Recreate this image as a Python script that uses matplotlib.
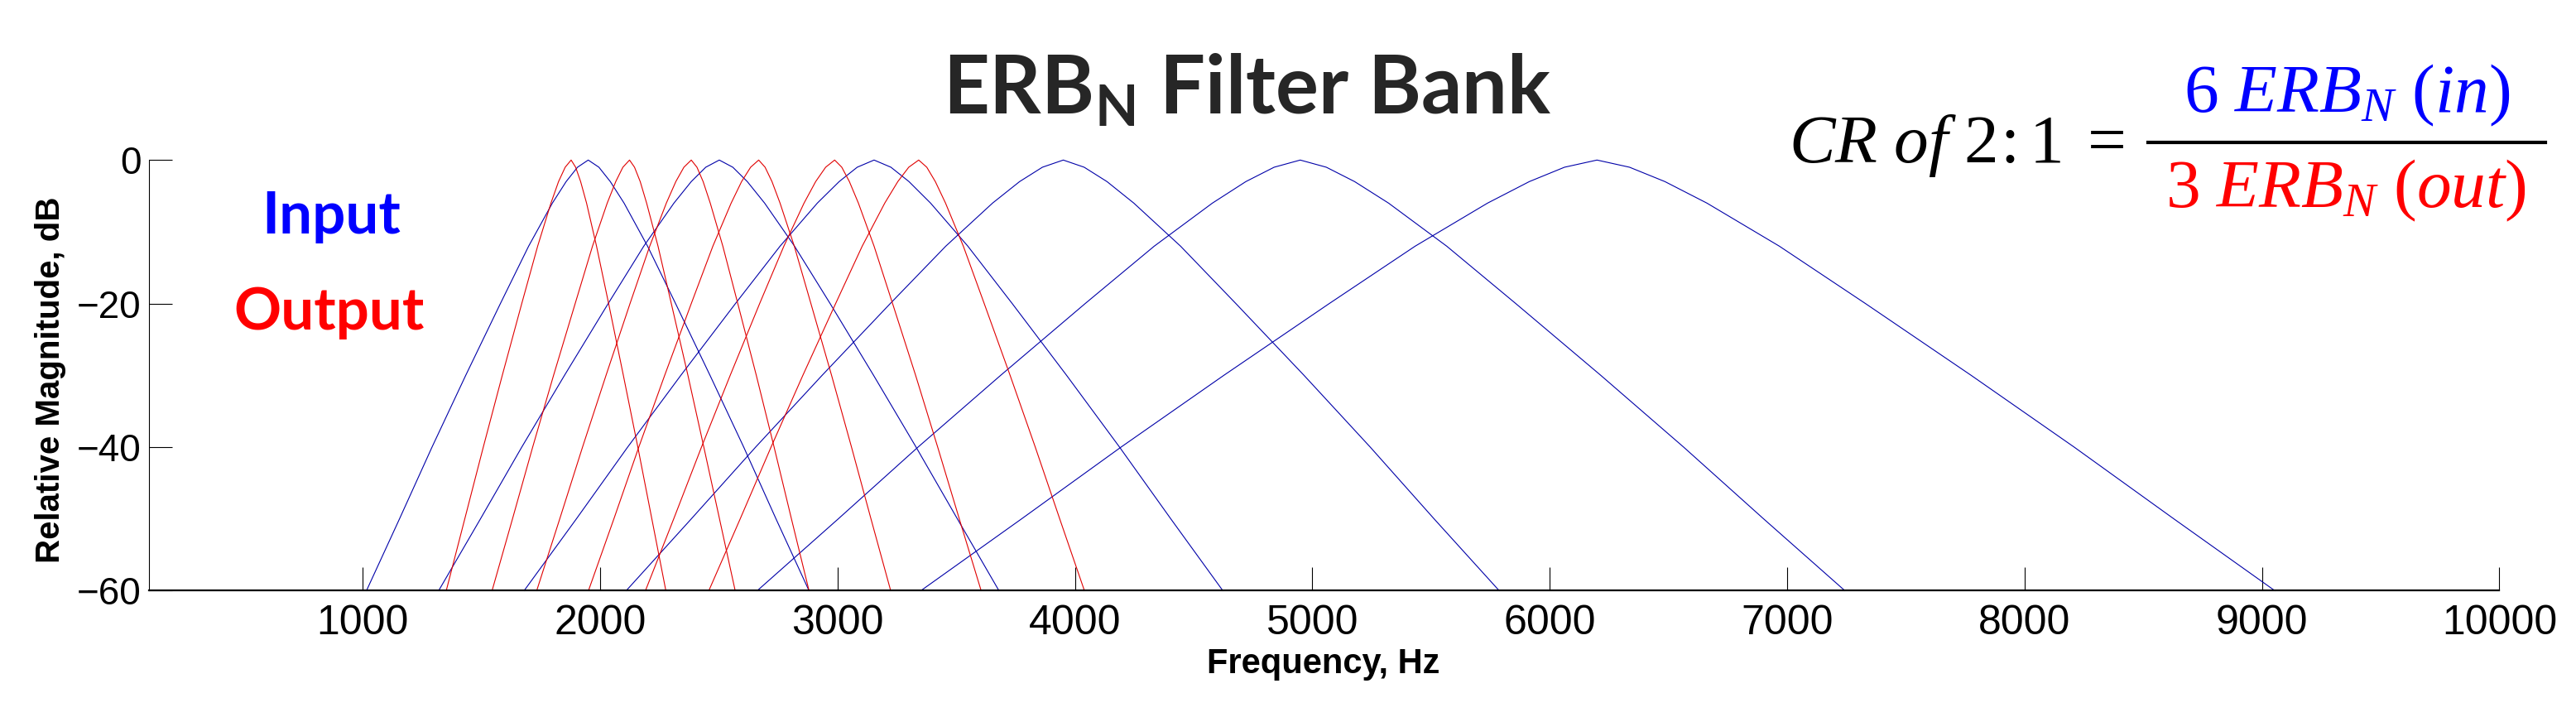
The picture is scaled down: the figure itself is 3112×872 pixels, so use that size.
import matplotlib
matplotlib.use("Agg")
import matplotlib.pyplot as plt
from matplotlib.lines import Line2D

levels = [-60, -50, -40, -30, -20, -12, -6, -3, -1, 0, -1, -3, -6, -12, -20, -30, -40, -50, -60]

# input (blue) filters, frequency in Hz at each level
input_freqs = [
    [1016, 1155, 1292, 1434, 1580, 1699, 1799, 1857, 1905, 1950, 1995, 2043, 2101, 2200, 2318, 2463, 2605, 2741, 2880],
    [1320, 1496, 1670, 1850, 2034, 2184, 2311, 2384, 2445, 2502, 2559, 2620, 2693, 2819, 2969, 3152, 3331, 3505, 3680],
    [1680, 1900, 2116, 2340, 2570, 2758, 2915, 3007, 3083, 3154, 3225, 3301, 3392, 3549, 3736, 3965, 4188, 4404, 4623],
    [2110, 2384, 2655, 2935, 3222, 3456, 3653, 3767, 3863, 3951, 4039, 4135, 4248, 4445, 4678, 4965, 5244, 5513, 5787],
    [2662, 3003, 3339, 3687, 4043, 4334, 4579, 4720, 4839, 4949, 5059, 5178, 5321, 5566, 5857, 6215, 6564, 6901, 7243],
    [3351, 3775, 4194, 4627, 5071, 5433, 5738, 5914, 6062, 6199, 6336, 6485, 6662, 6967, 7330, 7775, 8209, 8629, 9054],
]

# output (red) filters
output_freqs = [
    [1352, 1430, 1508, 1588, 1670, 1737, 1793, 1825, 1853, 1878, 1897, 1918, 1943, 1985, 2036, 2098, 2159, 2218, 2277],
    [1545, 1631, 1716, 1804, 1895, 1968, 2030, 2066, 2096, 2124, 2145, 2169, 2196, 2244, 2300, 2370, 2437, 2503, 2569],
    [1733, 1830, 1926, 2025, 2126, 2209, 2279, 2319, 2353, 2384, 2408, 2434, 2464, 2517, 2580, 2658, 2733, 2806, 2880],
    [1951, 2058, 2163, 2272, 2384, 2475, 2552, 2596, 2634, 2668, 2695, 2724, 2758, 2818, 2888, 2975, 3059, 3141, 3224],
    [2191, 2310, 2427, 2548, 2672, 2774, 2859, 2908, 2950, 2988, 3018, 3050, 3088, 3154, 3232, 3329, 3422, 3513, 3605],
    [2458, 2590, 2720, 2854, 2992, 3104, 3199, 3254, 3300, 3342, 3376, 3412, 3455, 3530, 3618, 3727, 3833, 3936, 4040],
]

x_ticks = [1000, 2000, 3000, 4000, 5000, 6000, 7000, 8000, 9000, 10000]
y_ticks = [-60, -40, -20, 0]

plt.rcParams['mathtext.fontset'] = 'custom'
plt.rcParams['mathtext.bf'] = 'Lato:bold'
plt.rcParams['mathtext.it'] = 'Liberation Serif:italic'
plt.rcParams['mathtext.rm'] = 'Liberation Serif'

W, H = 3112, 872
fig = plt.figure(figsize=(W / 100, H / 100), dpi=100)
ax = fig.add_axes([180 / W, 1 - 713.4 / H, (3019.5 - 180) / W, (713.4 - 193.3) / H])

def fx(px):
    return px / W

def fy(py):
    return 1 - py / H

for f in input_freqs:
    ax.plot(f, levels, color='#0000a8', lw=0.8, clip_on=False)
for f in output_freqs:
    ax.plot(f, levels, color='#e00000', lw=0.8, clip_on=False)

ax.set_xlim(100, 10000)
ax.set_ylim(-60, 0)
ax.set_xticks(x_ticks)
ax.set_yticks(y_ticks)
ax.spines[['top', 'right']].set_visible(False)
ax.spines['bottom'].set_linewidth(1.6)
ax.spines['left'].set_linewidth(0.8)
ax.tick_params(direction='in', length=20.5, width=0.8)
ax.tick_params(axis='x', pad=12)
ax.tick_params(axis='y', pad=7)
for lab in ax.get_xticklabels():
    lab.set_family('Liberation Sans')
    lab.set_fontsize(36)
for lab in ax.get_yticklabels():
    lab.set_family('Liberation Sans')
    lab.set_fontsize(33)

# axis labels
fig.text(fx(1599), fy(813), 'Frequency, Hz', ha='center', va='baseline',
         family='Liberation Sans', fontweight='bold', fontsize=30)
fig.text(fx(61), fy(459), 'Relative Magnitude, dB', ha='center', va='center',
         rotation=90, family='Liberation Sans', fontweight='bold', fontsize=29)

# title
fig.text(fx(1507), fy(137), r'$\mathbf{ERB_N\ Filter\ Bank}$', ha='center',
         va='baseline', color='#262626', fontsize=70)

# Input / Output labels
fig.text(fx(400), fy(282), 'Input', ha='center', va='baseline', color='#0000ff',
         family='Lato', fontweight='bold', fontsize=51)
fig.text(fx(398), fy(398), 'Output', ha='center', va='baseline', color='#ff0000',
         family='Lato', fontweight='bold', fontsize=51)

# compression ratio formula
fig.text(fx(2567), fy(196), r'$CR\ of\ 2\!:1\;=$', ha='right', va='baseline',
         color='black', fontsize=60)
fig.text(fx(2835), fy(135), r'$6\ ERB_N\ (in)$', ha='center', va='baseline',
         color='#0000ff', fontsize=60)
fig.text(fx(2834), fy(250), r'$3\ ERB_N\ (out)$', ha='center', va='baseline',
         color='#ff0000', fontsize=60)
fig.add_artist(Line2D([fx(2595), fx(3075)], [fy(172.5), fy(172.5)], color='black',
                      lw=3, transform=fig.transFigure))

fig.savefig('out.png', dpi=100)
